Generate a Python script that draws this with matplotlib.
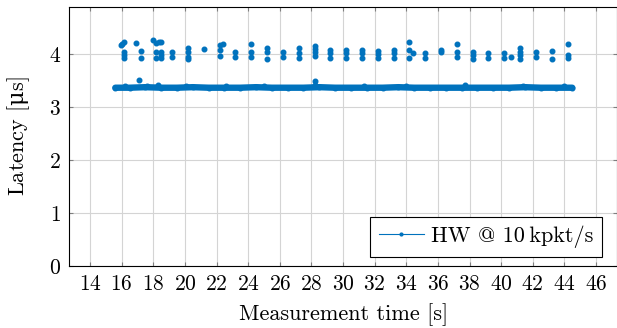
#!/usr/bin/env python3
import matplotlib
matplotlib.use('Agg')
import matplotlib.pyplot as plt
from matplotlib.lines import Line2D

plt.rcParams['font.family'] = ['cmr10', 'DejaVu Serif']
plt.rcParams['axes.formatter.use_mathtext'] = True
plt.rcParams['mathtext.fontset'] = 'custom'
plt.rcParams['mathtext.rm'] = 'DejaVu Serif'

# main latency band (s, us)
band_time = [15.6, 16.5, 17.5, 18.5, 19.5, 20.5, 21.5, 22.5, 23.5, 24.5,
             25.5, 26.5, 27.5, 28.5, 29.5, 30.5, 31.5, 32.5, 33.5, 34.5,
             35.5, 36.5, 37.5, 38.5, 39.5, 40.5, 41.5, 42.5, 43.5, 44.5]
band_lat = [3.37, 3.37, 3.38, 3.37, 3.37, 3.38, 3.37, 3.37, 3.37, 3.38,
            3.37, 3.37, 3.37, 3.38, 3.37, 3.37, 3.37, 3.37, 3.38, 3.37,
            3.37, 3.37, 3.37, 3.37, 3.37, 3.37, 3.38, 3.37, 3.37, 3.37]

# small bumps on top of the band
bump_time = [16.2, 17.6, 18.3, 20.1, 22.6, 25.0, 28.2, 31.3, 34.0, 37.7, 41.4, 44.0]
bump_lat = [3.41, 3.41, 3.42, 3.41, 3.41, 3.41, 3.43, 3.41, 3.41, 3.42, 3.41, 3.41]

# outlier packets
out_time = [15.95, 16.05, 16.15, 16.15, 16.15, 16.15, 16.9, 17.2, 17.2, 17.1,
            18.0, 18.2, 18.35, 18.5, 18.2, 18.2, 18.5, 18.5, 18.5, 19.2,
            19.2, 20.2, 20.2, 20.2, 20.2, 21.2, 22.2, 22.4, 22.2, 22.2,
            23.2, 23.2, 24.2, 24.2, 24.2, 25.2, 25.2, 25.2, 26.2, 26.2,
            27.2, 27.2, 27.2, 28.2, 28.2, 28.2, 28.2, 28.2, 29.2, 29.2,
            29.2, 30.2, 30.2, 30.2, 31.2, 31.2, 31.2, 32.2, 32.2, 32.2,
            33.2, 33.2, 33.2, 34.2, 34.2, 34.45, 34.2, 35.2, 35.2, 36.2,
            36.2, 37.2, 37.2, 37.2, 38.2, 38.2, 38.2, 39.2, 39.2, 40.2,
            40.2, 40.65, 41.2, 41.2, 41.2, 41.2, 42.2, 42.2, 43.2, 43.2,
            44.2, 44.2, 44.2]
out_lat = [4.17, 4.20, 4.23, 4.05, 3.99, 3.94, 4.22, 4.07, 3.94, 3.51,
           4.27, 4.21, 4.24, 4.24, 4.05, 3.94, 4.04, 3.99, 3.93, 4.04,
           3.96, 4.12, 4.05, 3.96, 3.92, 4.10, 4.18, 4.19, 4.09, 3.97,
           4.05, 3.96, 4.20, 4.04, 3.96, 4.12, 4.04, 3.91, 4.05, 3.96,
           4.12, 4.03, 3.94, 4.16, 4.10, 4.04, 3.97, 3.49, 4.08, 4.02,
           3.94, 4.08, 4.02, 3.94, 4.09, 4.02, 3.94, 4.06, 4.00, 3.94,
           4.08, 4.02, 3.94, 4.24, 4.08, 4.03, 3.94, 4.03, 3.94, 4.08,
           4.04, 4.19, 4.04, 3.96, 4.05, 3.99, 3.91, 4.03, 3.94, 4.03,
           3.94, 3.96, 4.13, 4.05, 3.99, 3.91, 4.05, 3.96, 4.06, 3.92,
           4.19, 3.99, 3.94]

x_ticks = [14, 16, 18, 20, 22, 24, 26, 28, 30, 32, 34, 36, 38, 40, 42, 44, 46]
y_ticks = [0, 1, 2, 3, 4]

blue = '#0072bd'

fig = plt.figure(figsize=(6.17, 3.28), dpi=100)
ax = fig.add_axes([69 / 617, 62 / 328, 548.5 / 617, 258.7 / 328])

ax.plot(band_time, band_lat, color=blue, lw=4.6, solid_capstyle='round',
        marker='o', ms=3.3, zorder=3)
ax.plot(bump_time, bump_lat, ls='none', marker='o', ms=3.3, color=blue, zorder=3)
ax.plot(out_time, out_lat, ls='none', marker='o', ms=3.3, color=blue, zorder=3)

ax.set_xlim(12.67, 47.36)
ax.set_ylim(0, 4.89)
ax.set_xticks(x_ticks)
ax.set_yticks(y_ticks)
ax.grid(True, color='#d4d4d4', lw=0.8)
ax.set_axisbelow(True)
ax.tick_params(direction='in', length=3, color='#808080', labelsize=15.5,
               top=True, right=True, pad=6)
for s in ax.spines.values():
    s.set_linewidth(0.8)

ax.set_xlabel('Measurement time [s]', fontsize=16, labelpad=7)
ax.set_ylabel(r'Latency [$\mathrm{\mu}$s]', fontsize=16, labelpad=12)

handle = Line2D([], [], color=blue, lw=0.8, marker='o', ms=2)
leg = ax.legend([handle], ['HW @ 10\u2009kpkt/s'], loc='lower right',
                bbox_to_anchor=(533 / 548.5, 9 / 258.7), borderaxespad=0,
                numpoints=1, fontsize=16, fancybox=False, framealpha=1,
                edgecolor='black', handlelength=2.05, handletextpad=0.3,
                borderpad=0.4)
leg.get_frame().set_linewidth(0.8)

fig.savefig('out.png', dpi=100)
